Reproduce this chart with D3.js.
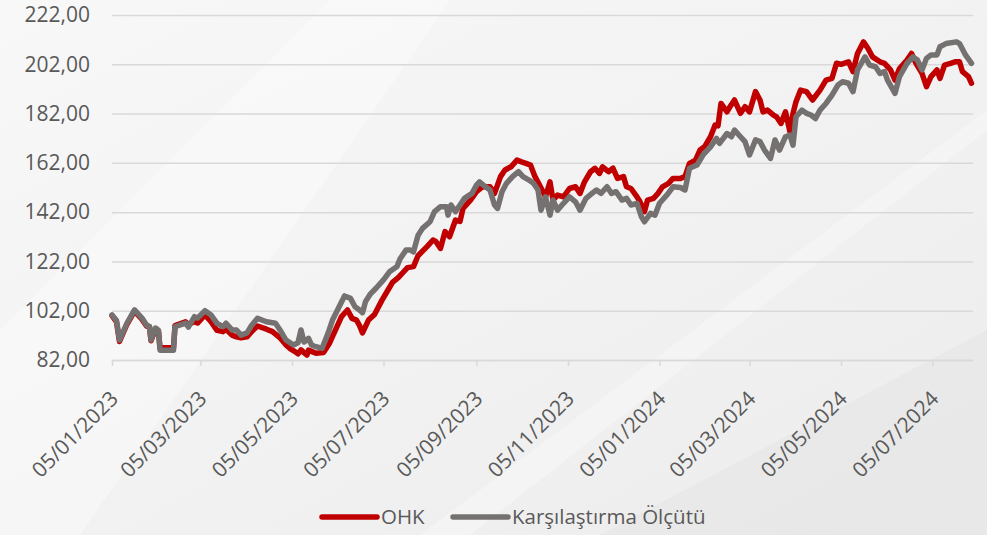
<!DOCTYPE html>
<html>
<head>
<meta charset="utf-8">
<script src="https://cdn.jsdelivr.net/npm/d3@7"></script>
<style>
  html, body { margin: 0; padding: 0; background: #f4f4f4; }
  svg { display: block; font-family: "Open Sans", sans-serif; }
</style>
</head>
<body>
<div id="chart"></div>
<script>
const width = 987, height = 535;

// --- data ---
const seriesNames = ['OHK', 'Karşılaştırma Ölçütü'];
const seriesColors = ['#c00000', '#767171'];
const yTicks = [82, 102, 122, 142, 162, 182, 202, 222];
const xTickDates = ['2023-01-05', '2023-03-05', '2023-05-05', '2023-07-05', '2023-09-05', '2023-11-05',
  '2024-01-05', '2024-03-05', '2024-05-05', '2024-07-05'];
const xDomain = ['2023-01-05', '2024-08-01'];

const ohk = [
  ['2023-01-05', 100], ['2023-01-08', 97.5], ['2023-01-10', 89.5], ['2023-01-15', 96.5], ['2023-01-20', 101.8],
  ['2023-01-25', 98.5], ['2023-01-28', 95.8], ['2023-01-30', 95.5], ['2023-01-31', 89.8], ['2023-02-03', 94.5],
  ['2023-02-05', 93.5], ['2023-02-06', 87], ['2023-02-15', 87], ['2023-02-16', 96], ['2023-02-23', 97.5],
  ['2023-02-25', 96.5], ['2023-03-01', 97.5], ['2023-03-03', 97], ['2023-03-08', 100.3], ['2023-03-12', 97.5],
  ['2023-03-16', 94], ['2023-03-20', 93.5], ['2023-03-22', 94.5], ['2023-03-26', 92.1], ['2023-03-29', 91.4],
  ['2023-04-01', 91], ['2023-04-05', 91.4], ['2023-04-08', 93.5], ['2023-04-12', 95.8], ['2023-04-18', 94.5],
  ['2023-04-22', 93.5], ['2023-04-27', 91], ['2023-05-01', 88.1], ['2023-05-04', 86.5], ['2023-05-07', 85.4],
  ['2023-05-09', 84.5], ['2023-05-11', 86.1], ['2023-05-13', 85], ['2023-05-15', 84], ['2023-05-16', 86],
  ['2023-05-18', 85.5], ['2023-05-21', 84.7], ['2023-05-26', 85], ['2023-05-30', 88.8], ['2023-06-03', 94.2],
  ['2023-06-07', 99.6], ['2023-06-11', 102.3], ['2023-06-14', 98.9], ['2023-06-17', 98.2], ['2023-06-19', 96],
  ['2023-06-21', 93], ['2023-06-25', 98.2], ['2023-06-29', 100.5], ['2023-07-04', 106.3], ['2023-07-08', 110.4],
  ['2023-07-11', 113.5], ['2023-07-15', 115.5], ['2023-07-18', 117.5], ['2023-07-21', 119.5], ['2023-07-25', 119.9],
  ['2023-07-28', 124.3], ['2023-08-03', 128], ['2023-08-07', 130.7], ['2023-08-09', 130], ['2023-08-12', 127.3],
  ['2023-08-15', 134.1], ['2023-08-18', 132], ['2023-08-22', 138.8], ['2023-08-25', 138.2], ['2023-08-27', 143.5],
  ['2023-09-01', 146.9], ['2023-09-05', 150.3], ['2023-09-09', 152.3], ['2023-09-14', 152.3], ['2023-09-17', 149.6],
  ['2023-09-21', 156.4], ['2023-09-24', 159.1], ['2023-09-28', 160.4], ['2023-10-02', 163.1], ['2023-10-05', 162.4],
  ['2023-10-08', 161.8], ['2023-10-11', 161.1], ['2023-10-14', 156.4], ['2023-10-17', 153], ['2023-10-21', 148.2],
  ['2023-10-24', 154.3], ['2023-10-26', 146.9], ['2023-10-29', 148.9], ['2023-11-02', 148.2], ['2023-11-06', 151.6],
  ['2023-11-10', 152.3], ['2023-11-13', 149.6], ['2023-11-16', 154.3], ['2023-11-20', 158.4], ['2023-11-23', 159.8],
  ['2023-11-26', 157.7], ['2023-11-28', 160.4], ['2023-12-02', 158.4], ['2023-12-05', 159.8], ['2023-12-08', 155.7],
  ['2023-12-12', 156.4], ['2023-12-14', 152.3], ['2023-12-17', 151.6], ['2023-12-21', 148.2], ['2023-12-23', 146.2],
  ['2023-12-26', 142.2], ['2023-12-28', 146.9], ['2024-01-01', 147.6], ['2024-01-04', 149.6], ['2024-01-07', 152.3],
  ['2024-01-11', 153.7], ['2024-01-14', 155.7], ['2024-01-19', 155.7], ['2024-01-22', 156.4], ['2024-01-25', 161.8],
  ['2024-01-29', 163.1], ['2024-02-01', 167.2], ['2024-02-04', 168.5], ['2024-02-08', 172.6], ['2024-02-11', 177.3],
  ['2024-02-13', 177], ['2024-02-15', 186.1], ['2024-02-19', 182.7], ['2024-02-21', 184.8], ['2024-02-24', 187.5],
  ['2024-02-28', 182.1], ['2024-03-02', 184.8], ['2024-03-05', 182.7], ['2024-03-09', 190.9], ['2024-03-12', 187.5],
  ['2024-03-14', 182.7], ['2024-03-17', 183.4], ['2024-03-21', 181.4], ['2024-03-23', 180.7], ['2024-03-26', 178],
  ['2024-03-29', 182.7], ['2024-04-01', 174.6], ['2024-04-03', 182.1], ['2024-04-05', 186.8], ['2024-04-08', 191.5],
  ['2024-04-12', 190.9], ['2024-04-16', 187.5], ['2024-04-21', 191.5], ['2024-04-25', 195.6], ['2024-04-29', 196.3],
  ['2024-05-02', 202.4], ['2024-05-05', 202], ['2024-05-10', 203], ['2024-05-13', 199], ['2024-05-16', 206.4],
  ['2024-05-20', 211.1], ['2024-05-23', 208.4], ['2024-05-26', 205], ['2024-05-31', 203], ['2024-06-03', 202.4],
  ['2024-06-07', 199.7], ['2024-06-10', 195.6], ['2024-06-13', 200.3], ['2024-06-18', 203.7], ['2024-06-21', 206.4],
  ['2024-06-24', 202.4], ['2024-06-28', 198.3], ['2024-07-01', 192.9], ['2024-07-04', 197], ['2024-07-08', 199.7],
  ['2024-07-10', 196.3], ['2024-07-13', 201.7], ['2024-07-17', 202.4], ['2024-07-20', 203], ['2024-07-23', 203],
  ['2024-07-25', 199], ['2024-07-29', 197], ['2024-07-31', 194.3]
];

const benchmark = [
  ['2023-01-05', 100.3], ['2023-01-08', 98], ['2023-01-10', 90.1], ['2023-01-15', 97], ['2023-01-20', 102.3],
  ['2023-01-25', 99], ['2023-01-28', 96.2], ['2023-01-30', 95.5], ['2023-01-31', 90.1], ['2023-02-03', 95],
  ['2023-02-05', 94], ['2023-02-06', 86], ['2023-02-15', 86], ['2023-02-16', 95.5], ['2023-02-23', 97],
  ['2023-02-25', 95.4], ['2023-03-01', 99.6], ['2023-03-03', 99], ['2023-03-08', 102], ['2023-03-12', 100.3],
  ['2023-03-16', 96.9], ['2023-03-20', 95.5], ['2023-03-22', 96.9], ['2023-03-26', 94.2], ['2023-03-29', 94.2],
  ['2023-04-01', 92.1], ['2023-04-05', 93], ['2023-04-06', 94], ['2023-04-08', 96], ['2023-04-12', 98.9],
  ['2023-04-18', 97.5], ['2023-04-24', 96.9], ['2023-04-27', 94.2], ['2023-05-01', 90.1], ['2023-05-06', 88.1],
  ['2023-05-09', 89], ['2023-05-11', 94.2], ['2023-05-13', 89.3], ['2023-05-16', 90.8], ['2023-05-18', 88.1],
  ['2023-05-21', 87.4], ['2023-05-25', 86.7], ['2023-05-29', 92.8], ['2023-06-01', 98.2], ['2023-06-06', 104.3],
  ['2023-06-09', 108], ['2023-06-13', 107], ['2023-06-16', 103.6], ['2023-06-19', 102.3], ['2023-06-21', 101.2],
  ['2023-06-23', 105.7], ['2023-06-26', 108.6], ['2023-06-30', 111.1], ['2023-07-05', 114.5], ['2023-07-09', 117.8],
  ['2023-07-14', 119.9], ['2023-07-16', 123], ['2023-07-20', 126.6], ['2023-07-23', 126.6], ['2023-07-25', 125.9],
  ['2023-07-28', 132.5], ['2023-07-31', 135.4], ['2023-08-05', 138.1], ['2023-08-08', 142.2], ['2023-08-12', 144.2],
  ['2023-08-16', 144.2], ['2023-08-17', 140.8], ['2023-08-19', 144.9], ['2023-08-22', 142.2], ['2023-08-25', 144.9],
  ['2023-08-28', 147.6], ['2023-09-02', 149.6], ['2023-09-05', 153], ['2023-09-07', 154.3], ['2023-09-11', 152.3],
  ['2023-09-14', 151], ['2023-09-17', 144.9], ['2023-09-19', 143.5], ['2023-09-22', 150.3], ['2023-09-25', 153.7],
  ['2023-09-29', 156.4], ['2023-10-03', 158.4], ['2023-10-06', 156.4], ['2023-10-10', 155], ['2023-10-13', 153.7],
  ['2023-10-16', 151], ['2023-10-18', 142.8], ['2023-10-21', 148.2], ['2023-10-24', 140.8], ['2023-10-26', 146.9],
  ['2023-10-29', 142.8], ['2023-11-02', 145.6], ['2023-11-06', 148.2], ['2023-11-10', 146.2], ['2023-11-13', 142.8],
  ['2023-11-17', 147.6], ['2023-11-21', 149.6], ['2023-11-24', 151], ['2023-11-27', 149.6], ['2023-12-01', 152.3],
  ['2023-12-04', 149.6], ['2023-12-07', 150.3], ['2023-12-11', 146.9], ['2023-12-14', 147.6], ['2023-12-17', 144.9],
  ['2023-12-21', 145.6], ['2023-12-24', 140.1], ['2023-12-26', 138.1], ['2023-12-30', 141.5], ['2024-01-02', 140.8],
  ['2024-01-05', 145.6], ['2024-01-10', 149], ['2024-01-14', 152.3], ['2024-01-19', 152], ['2024-01-22', 151],
  ['2024-01-25', 159.8], ['2024-01-30', 161.1], ['2024-02-03', 165.2], ['2024-02-08', 168.5], ['2024-02-12', 171.9],
  ['2024-02-14', 169.9], ['2024-02-19', 173.9], ['2024-02-22', 172.6], ['2024-02-24', 175.3], ['2024-02-28', 172.6],
  ['2024-03-02', 170.6], ['2024-03-05', 165.2], ['2024-03-09', 171.3], ['2024-03-12', 170.6], ['2024-03-15', 167.2],
  ['2024-03-19', 163.8], ['2024-03-22', 171.3], ['2024-03-25', 167.2], ['2024-03-29', 172.6], ['2024-04-01', 173.3],
  ['2024-04-03', 169.2], ['2024-04-05', 180.7], ['2024-04-09', 183.4], ['2024-04-12', 182.1], ['2024-04-15', 181.4],
  ['2024-04-18', 180], ['2024-04-21', 183.4], ['2024-04-25', 186.1], ['2024-04-29', 189.5], ['2024-05-03', 193.6],
  ['2024-05-06', 194.9], ['2024-05-10', 194.3], ['2024-05-13', 190.9], ['2024-05-16', 199.7], ['2024-05-21', 205],
  ['2024-05-24', 201.7], ['2024-05-28', 201], ['2024-05-31', 198.3], ['2024-06-03', 199], ['2024-06-05', 195.6],
  ['2024-06-10', 190.2], ['2024-06-13', 197], ['2024-06-18', 202.4], ['2024-06-22', 205], ['2024-06-25', 203.7],
  ['2024-06-28', 199.7], ['2024-07-01', 204.4], ['2024-07-04', 205.8], ['2024-07-08', 205.8], ['2024-07-10', 209.1],
  ['2024-07-14', 210.4], ['2024-07-21', 211.1], ['2024-07-23', 210.4], ['2024-07-27', 205.8], ['2024-07-31', 202.4]
];

const parseDate = d3.timeParse('%Y-%m-%d');
const plot = { left: 112, right: 973, top: 15, bottom: 360 };
const fontFamily = '"Open Sans", sans-serif';

const svg = d3.select('#chart')
  .append('svg')
  .attr('width', width)
  .attr('height', height);

// soft background with diagonal light bands
const defs = svg.append('defs');
const bg = defs.append('linearGradient').attr('id', 'bg')
  .attr('x1', '0').attr('y1', '0').attr('x2', '1').attr('y2', '1');
bg.append('stop').attr('offset', '0').attr('stop-color', '#f8f8f8');
bg.append('stop').attr('offset', '1').attr('stop-color', '#ececec');
svg.append('rect').attr('width', width).attr('height', height).attr('fill', 'url(#bg)');
svg.append('path').attr('d', 'M0,330 L330,0 L450,0 L80,535 L0,535 Z').attr('fill', '#ffffff').attr('opacity', 0.35);
svg.append('path').attr('d', 'M600,535 L987,330 L987,535 Z').attr('fill', '#e4e4e4').attr('opacity', 0.5);
svg.append('path').attr('d', 'M420,535 L987,110 L987,130 L470,535 Z').attr('fill', '#ffffff').attr('opacity', 0.3);

const xscale = d3.scaleTime().domain(xDomain.map(parseDate)).range([plot.left, plot.right]);
const yscale = d3.scaleLinear().domain([yTicks[0], yTicks[yTicks.length - 1]]).range([plot.bottom, plot.top]);

const textColor = '#595959';
const gridColor = '#d9d9d9';

// y axis with gridlines
const yaxis = d3.axisLeft(yscale)
  .tickValues(yTicks)
  .tickSize(-(plot.right - plot.left))
  .tickPadding(22)
  .tickFormat(d => d3.format('.2f')(d).replace('.', ','));

const gy = svg.append('g')
  .attr('transform', 'translate(' + plot.left + ',0)')
  .call(yaxis)
  .attr('font-family', fontFamily)
  .attr('font-size', 21);
gy.select('.domain').remove();
gy.selectAll('line').attr('stroke', gridColor).attr('stroke-width', 1.5);
gy.selectAll('text').attr('fill', textColor);

// x axis
const xaxis = d3.axisBottom(xscale)
  .tickValues(xTickDates.map(parseDate))
  .tickSizeInner(6)
  .tickSizeOuter(0)
  .tickFormat(d3.timeFormat('%d/%m/%Y'));

const gx = svg.append('g')
  .attr('transform', 'translate(0,' + plot.bottom + ')')
  .call(xaxis)
  .attr('font-family', fontFamily)
  .attr('font-size', 21);
gx.select('.domain').attr('stroke', gridColor).attr('stroke-width', 1.5);
gx.selectAll('line').attr('stroke', gridColor).attr('stroke-width', 1.5);
gx.selectAll('text')
  .attr('fill', textColor)
  .attr('text-anchor', 'end')
  .attr('x', 0).attr('y', 0).attr('dy', 0)
  .attr('transform', 'translate(7,40) rotate(-45)');

// series lines
const line = d3.line()
  .x(d => xscale(parseDate(d[0])))
  .y(d => yscale(d[1]));

[ohk, benchmark].forEach((series, i) => {
  svg.append('path')
    .datum(series)
    .attr('fill', 'none')
    .attr('stroke', seriesColors[i])
    .attr('stroke-width', 5.5)
    .attr('stroke-linejoin', 'round')
    .attr('stroke-linecap', 'round')
    .attr('d', line);
});

// legend
const legendItems = [{ x: 322 }, { x: 453 }];
legendItems.forEach((item, i) => {
  const g = svg.append('g').attr('transform', 'translate(' + item.x + ',517)');
  g.append('line')
    .attr('x1', 0).attr('x2', 55)
    .attr('stroke', seriesColors[i])
    .attr('stroke-width', 5.5)
    .attr('stroke-linecap', 'round');
  g.append('text')
    .attr('x', 59)
    .attr('dy', '0.35em')
    .attr('fill', textColor)
    .attr('font-family', fontFamily)
    .attr('font-size', 20.5)
    .text(seriesNames[i]);
});
</script>
</body>
</html>
